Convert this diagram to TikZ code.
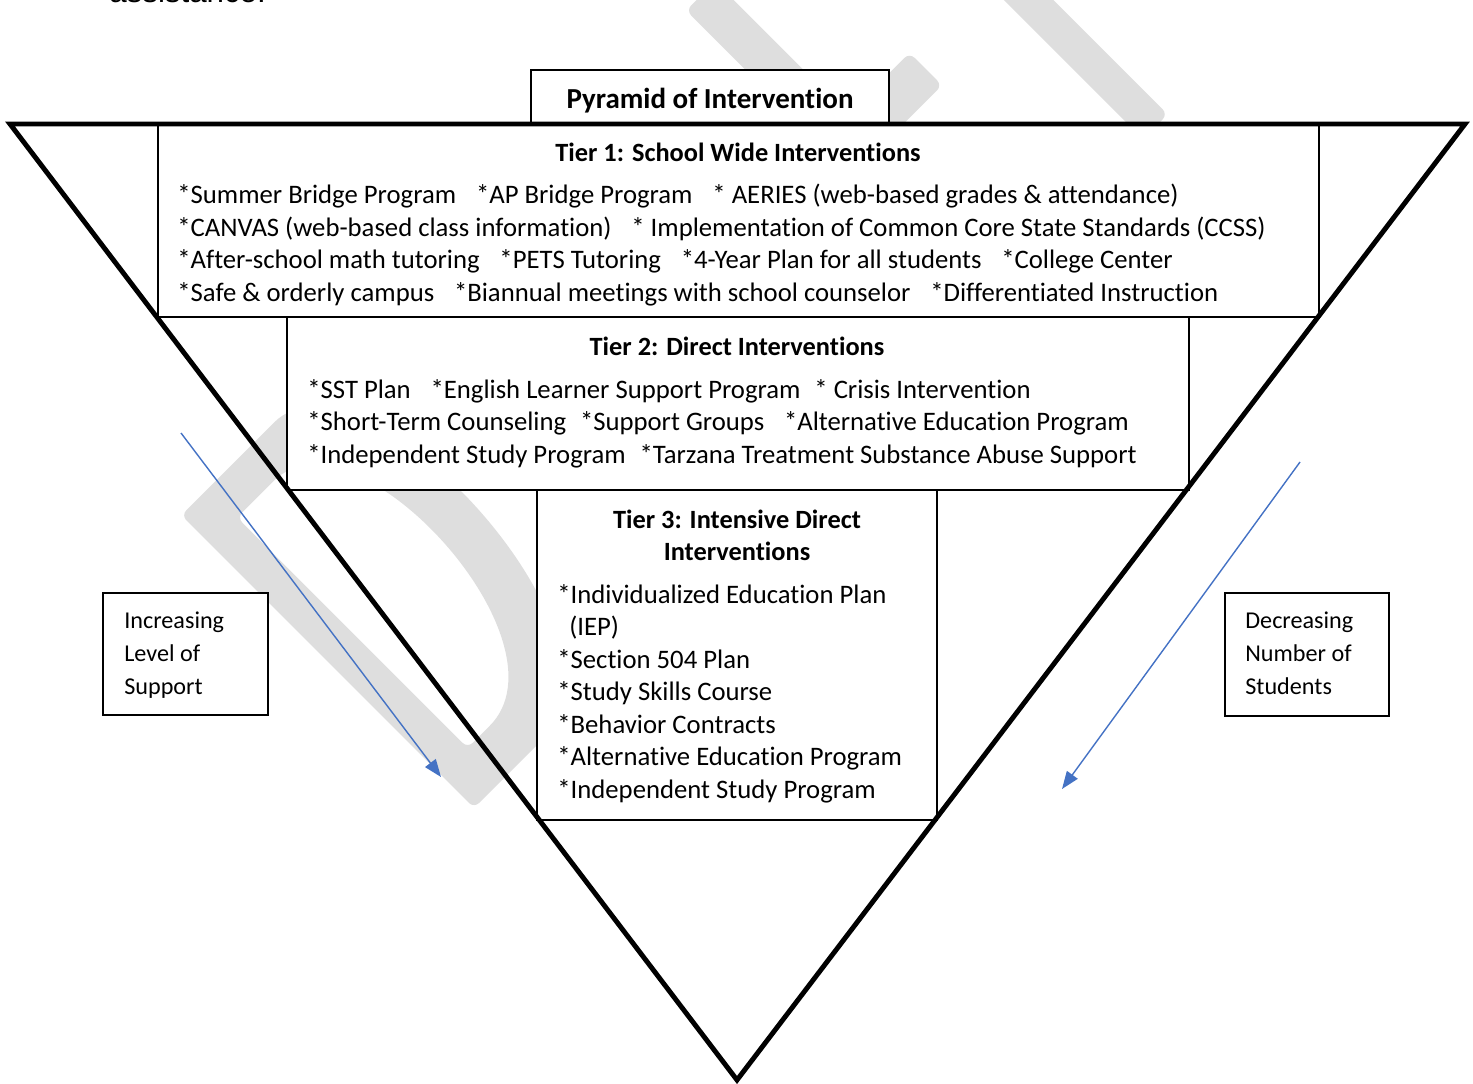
\documentclass[tikz,border=0pt]{standalone}
\usepackage{fontspec}
\setmainfont{Carlito}[Ligatures=NoCommon]
\newfontfamily\arialfont{Liberation Sans}
\usetikzlibrary{calc,positioning,arrows.meta,fit}
\definecolor{wordblue}{RGB}{68,114,196}
\definecolor{wmgray}{RGB}{222,222,222}
\newcommand{\gapw}{\hspace{11.3pt}}
\newcommand{\gapn}{\hspace{7.9pt}}

\begin{document}
\begin{tikzpicture}[
x=0.02cm,y=-0.02cm,
>={Triangle[length=10pt,width=7.5pt]},
tierbox/.style={
	draw,
	fill=white,
	line width=0.9pt,
	inner sep=0pt
},
item/.style={
	anchor=base west,
	inner sep=0pt,
	font=\fontsize{15.2}{18}\selectfont
},
heading/.style={
	anchor=base,
	inner sep=0pt,
	font=\fontsize{15}{18}\selectfont\bfseries
},
side/.style={
	anchor=base west,
	inner sep=0pt,
	font=\fontsize{13.75}{16}\selectfont
},
trend/.style={
	->,
	draw=wordblue,
	line width=0.8pt
},
pyramid/.style={
	line width=2.8pt
},
wmark/.style={
	fill=wmgray,
	rounded corners=4pt
}
]
\useasboundingbox (0,0) rectangle (1473,1084);

% watermark behind everything
\begin{scope}[shift={(474,808)},x={(0.01414cm,0.01414cm)},y={(-0.01414cm,0.01414cm)}]
\fill[wmark,even odd rule] (0,0) -- (90,0) .. controls (240,0) and (255,414) .. (124,414) -- (0,414) -- cycle
	(38,47) -- (62,47) .. controls (188,47) and (203,373) .. (82,373) -- (38,373) -- cycle;
\fill[wmark] (714,0) -- (755,0) -- (755,414) -- (714,414) -- cycle;
\fill[wmark] (714,180) -- (842,180) -- (842,226) -- (714,226) -- cycle;
\fill[wmark] (946,0) -- (981,0) -- (981,414) -- (946,414) -- cycle;
\end{scope}

\node[anchor=base west,inner sep=0pt,font=\arialfont\fontsize{17.8}{20}\selectfont] (prevline) at (109,2.5) {assistance.};

% boxes
\node[tierbox,line width=0.8pt,fit={(531,70) (889,124)}] (titlebox) {};
\node[tierbox,fit={(158,124) (1319,317)}] (tier1) {};
\node[tierbox,fit={(287,317) (1189,490)}] (tier2) {};
\node[tierbox,fit={(537,490) (937,820)}] (tier3) {};
\node[tierbox,fit={(103,593) (268,715)}] (leftbox) {};
\node[tierbox,fit={(1225,593) (1389,716)}] (rightbox) {};

% the pyramid
\coordinate (tl) at (10,124);
\coordinate (tr) at (1465,124);
\coordinate (apex) at (737,1080);
\draw[pyramid] (tl) -- (tr) -- (apex) -- cycle;

\node[heading,font=\fontsize{16.5}{19}\selectfont\bfseries] (title) at (710,109) {Pyramid of Intervention};

\node[heading] (head1) at (738,162) {Tier 1: School Wide Interventions};
\foreach \n/\y/\txt in {1/204/{*Summer Bridge Program\gapw *AP Bridge Program\gapw * AERIES (web-based grades \& attendance)},
	2/237/{*CANVAS (web-based class information)\gapw * Implementation of Common Core State Standards (CCSS)},
	3/269/{*After-school math tutoring\gapw *PETS Tutoring\gapw *4-Year Plan for all students\gapw *College Center},
	4/302/{*Safe \& orderly campus\gapw *Biannual meetings with school counselor\gapw *Differentiated Instruction}}
\node[item] (one\n) at (177,\y) {\txt};

\node[heading] (head2) at (737,356) {Tier 2: Direct Interventions};
\foreach \n/\y/\txt in {1/398/{*SST Plan\gapw *English Learner Support Program\gapn * Crisis Intervention},
	2/430/{*Short-Term Counseling\gapn *Support Groups\gapw *Alternative Education Program},
	3/463/{*Independent Study Program\gapn *Tarzana Treatment Substance Abuse Support}}
\node[item] (two\n) at (307,\y) {\txt};

\node[heading] (head3a) at (737,528) {Tier 3: Intensive Direct};
\node[heading] (head3b) at (737,560) {Interventions};
\foreach \n/\y/\txt in {1/603/{*Individualized Education Plan},2/635/{\hspace{6.8pt}(IEP)},
	3/668/{*Section 504 Plan},4/700/{*Study Skills Course},5/733/{*Behavior Contracts},
	6/765/{*Alternative Education Program},7/798/{*Independent Study Program}}
\node[item] (three\n) at (557,\y) {\txt};

\foreach \n/\y/\txt in {1/628/Increasing,2/661/Level of,3/694/Support}
\node[side] (inc\n) at (124,\y) {\txt};
\foreach \n/\y/\txt in {1/628/Decreasing,2/661/Number of,3/694/Students}
\node[side] (dec\n) at (1245,\y) {\txt};

% trend arrows
\coordinate (supstart) at (181,433);
\coordinate (supend) at (441,777);
\coordinate (stustart) at (1300,462);
\coordinate (stuend) at (1062,789);
\draw[trend] (supstart) -- (supend);
\draw[trend] (stustart) -- (stuend);
\end{tikzpicture}
\end{document}
